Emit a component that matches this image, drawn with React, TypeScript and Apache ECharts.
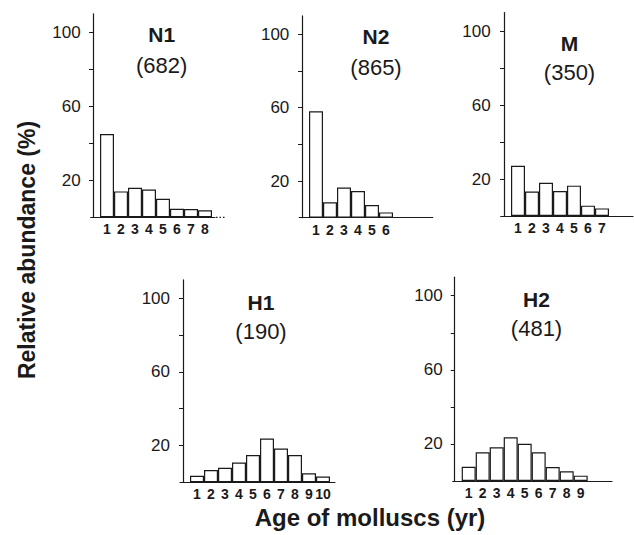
import React, { useEffect, useRef } from "react";
import * as echarts from "echarts";

// ---- data ----
const n1Ages = [1, 2, 3, 4, 5, 6, 7, 8];
const n1Values = [45, 14, 16, 15, 10, 4.6, 4.5, 3.8];
const n2Ages = [1, 2, 3, 4, 5, 6];
const n2Values = [58, 8.4, 16.4, 14.5, 6.9, 2.9];
const mAges = [1, 2, 3, 4, 5, 6, 7];
const mValues = [27.2, 13.2, 18, 13.5, 16.4, 5.6, 4.1];
const h1Ages = [1, 2, 3, 4, 5, 6, 7, 8, 9, 10];
const h1Values = [3.6, 6.7, 7.9, 10.8, 14.8, 23.8, 18.4, 14.8, 4.9, 3.1];
const h2Ages = [1, 2, 3, 4, 5, 6, 7, 8, 9];
const h2Values = [7.7, 15.5, 18.2, 23.6, 20.1, 15.5, 7.5, 5.2, 2.9];

const panelNames = ["N1", "N2", "M", "H1", "H2"];
const panelCounts = ["(682)", "(865)", "(350)", "(190)", "(481)"];
const yLabelTicks = [20, 60, 100];
const yMinorTicks = [20, 40, 60, 80, 100];
const yTitle = "Relative abundance (%)";
const xTitle = "Age of molluscs (yr)";

// ---- layout (pixels) ----
const UNIT = 14;
const YMAX = 110;
const layouts = [
  { axisX: 90.7, right: 215, bar1Left: 100, baseline: 217.3, pxPer: 1.85, nameX: 161.7, nameY: 34.7, countY: 65.3 },
  { axisX: 299.3, right: 432.7, bar1Left: 309, baseline: 217.7, pxPer: 1.834, nameX: 376, nameY: 36.7, countY: 67.7 },
  { axisX: 500.7, right: 633, bar1Left: 511, baseline: 216, pxPer: 1.85, nameX: 569.5, nameY: 43.3, countY: 72.2 },
  { axisX: 180, right: 335, bar1Left: 190, baseline: 482.3, pxPer: 1.84, nameX: 261, nameY: 302.8, countY: 331.3 },
  { axisX: 452.7, right: 612, bar1Left: 461.7, baseline: 481, pxPer: 1.853, nameX: 536.5, nameY: 299.7, countY: 328.3 },
];

const FONT = "'Liberation Sans', Arial, Helvetica, sans-serif";
const INK = "#1a1a1a";

export default function App() {
  const ref = useRef<HTMLDivElement>(null);
  useEffect(() => {
    if (!ref.current) return;
    const chart = echarts.init(ref.current, null, { renderer: "svg" });
    const panels = [
      { ages: n1Ages, values: n1Values },
      { ages: n2Ages, values: n2Values },
      { ages: mAges, values: mValues },
      { ages: h1Ages, values: h1Values },
      { ages: h2Ages, values: h2Values },
    ];
    const grid: any[] = [];
    const xAxis: any[] = [];
    const yAxis: any[] = [];
    const series: any[] = [];
    const graphic: any[] = [];
    panels.forEach((p, i) => {
      const L = layouts[i];
      const h = YMAX * L.pxPer;
      const w = L.right - L.axisX;
      const min = 1 - (L.bar1Left + UNIT / 2 - L.axisX) / UNIT;
      const max = min + w / UNIT;
      grid.push({ left: L.axisX, top: L.baseline - h, width: w, height: h });
      xAxis.push({
        type: "value",
        gridIndex: i,
        min,
        max,
        splitLine: { show: false },
        axisLine: { show: true, lineStyle: { color: INK, width: 1.2 } },
        axisTick: { show: false },
        axisLabel: {
          customValues: p.ages,
          margin: 5,
          fontSize: 14,
          fontWeight: "bold",
          fontFamily: FONT,
          color: INK,
        },
      });
      yAxis.push({
        type: "value",
        gridIndex: i,
        min: 0,
        max: YMAX,
        splitLine: { show: false },
        axisLine: { show: true, lineStyle: { color: INK, width: 1.2 } },
        axisTick: { show: true, customValues: yMinorTicks, length: 4, lineStyle: { color: INK } },
        axisLabel: {
          customValues: yLabelTicks,
          margin: 10,
          fontSize: 17,
          fontFamily: FONT,
          color: INK,
        },
      });
      series.push({
        type: "bar",
        xAxisIndex: i,
        yAxisIndex: i,
        barWidth: UNIT,
        data: p.ages.map((a, k) => [a, p.values[k]]),
        itemStyle: { color: "#fff", borderColor: INK, borderWidth: 1.2 },
      });
      graphic.push({
        type: "text",
        x: L.nameX,
        y: L.nameY,
        style: {
          text: panelNames[i],
          fontSize: 21,
          fontWeight: "bold",
          fontFamily: FONT,
          fill: INK,
          textAlign: "center",
          textVerticalAlign: "middle",
        },
      });
      graphic.push({
        type: "text",
        x: L.nameX,
        y: L.countY,
        style: {
          text: panelCounts[i],
          fontSize: 22,
          fontFamily: FONT,
          fill: INK,
          textAlign: "center",
          textVerticalAlign: "middle",
        },
      });
    });
    // dotted tail of N1 baseline
    graphic.push({
      type: "line",
      shape: { x1: 216, y1: layouts[0].baseline, x2: 225, y2: layouts[0].baseline },
      style: { stroke: INK, lineWidth: 1.2, lineDash: [1.5, 2] },
    });
    graphic.push({
      type: "text",
      x: 26.5,
      y: 250,
      rotation: Math.PI / 2,
      style: {
        text: yTitle,
        fontSize: 23,
        fontWeight: "bold",
        fontFamily: FONT,
        fill: INK,
        textAlign: "center",
        textVerticalAlign: "middle",
      },
    });
    graphic.push({
      type: "text",
      x: 370,
      y: 517,
      style: {
        text: xTitle,
        fontSize: 24,
        fontWeight: "bold",
        fontFamily: FONT,
        fill: INK,
        textAlign: "center",
        textVerticalAlign: "middle",
      },
    });
    chart.setOption({
      animation: false,
      backgroundColor: "#fff",
      grid,
      xAxis,
      yAxis,
      series,
      graphic,
    });
    return () => chart.dispose();
  }, []);
  return (
    <div
      ref={ref}
      style={{ position: "fixed", left: 0, top: 0, width: 634, height: 535 }}
    />
  );
}
